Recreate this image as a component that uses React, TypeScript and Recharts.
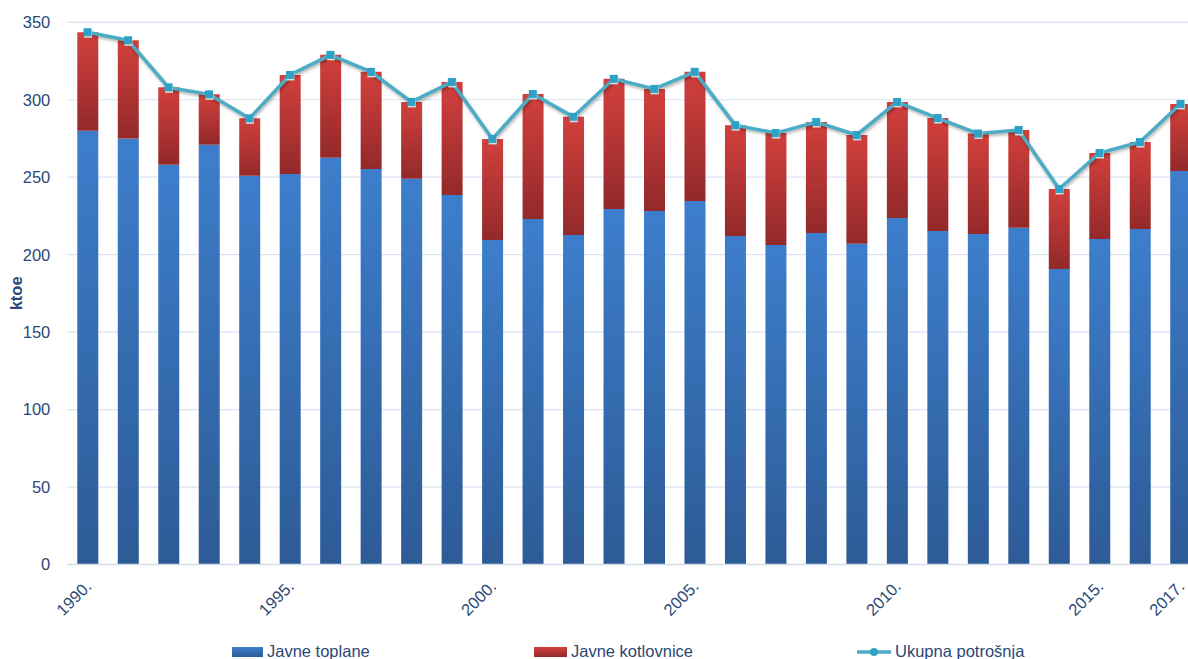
import React from 'react';
import { ComposedChart, Bar, Line, XAxis, YAxis, CartesianGrid, Legend, Label } from 'recharts';

const years = ['1990.', '1991.', '1992.', '1993.', '1994.', '1995.', '1996.', '1997.', '1998.', '1999.', '2000.', '2001.', '2002.', '2003.', '2004.', '2005.', '2006.', '2007.', '2008.', '2009.', '2010.', '2011.', '2012.', '2013.', '2014.', '2015.', '2016.', '2017.'];
const javneToplane = [280, 275, 258, 271, 251, 252, 262.6, 255.3, 249, 238.5, 209.5, 223, 212.7, 229.5, 228.2, 234.7, 212.1, 206.3, 214, 207, 223.7, 215.3, 213.4, 217.3, 190.8, 210.1, 216.6, 254];
const javneKotlovnice = [63.6, 63.4, 50, 32.5, 37, 64, 66.4, 62.7, 49.6, 73, 65.2, 80.7, 76.3, 84, 78.8, 83.3, 71.5, 72.2, 71.6, 70.3, 74.9, 72.9, 64.8, 63.2, 51.6, 55.5, 56.1, 43.3];
const ukupnaPotrosnja = [343.6, 338.4, 308, 303.5, 288, 316, 329, 318, 298.6, 311.5, 274.7, 303.7, 289, 313.5, 307, 318, 283.6, 278.5, 285.6, 277.3, 298.6, 288.2, 278.2, 280.5, 242.4, 265.6, 272.7, 297.3];
const xTickLabels = ['1990.', '1995.', '2000.', '2005.', '2010.', '2015.', '2017.'];
const yTicks = [0, 50, 100, 150, 200, 250, 300, 350];

const data = years.map((y, i) => ({
  year: y,
  toplane: javneToplane[i],
  kotlovnice: javneKotlovnice[i],
  ukupno: ukupnaPotrosnja[i],
}));

const W = 1210;
const H = 659;
const FONT = '"Liberation Sans", Arial, sans-serif';
const TEXT = '#2A4877';
const LINE = '#4BACC6';

const XTick = (props: any) => {
  const { x, y, payload } = props;
  if (!xTickLabels.includes(payload.value)) return null;
  const ax = x + 5;
  const ay = y + 23;
  return (
    <text x={ax} y={ay} textAnchor="end" fill={TEXT} fontSize={16.5} fontFamily={FONT}
      transform={`rotate(-45 ${ax} ${ay})`}>{payload.value}</text>
  );
};

const Dot = (props: any) => {
  const { cx, cy } = props;
  if (cx == null || cy == null) return null;
  return (
    <g>
      <rect x={cx - 3.5} y={cy - 2.5} width={8} height={8} fill="#dcdcd2" />
      <rect x={cx - 4} y={cy - 4} width={8} height={8} fill="#2EA2C6" />
    </g>
  );
};

const LegendContent = () => (
  <div style={{ position: 'relative', width: W, height: 20, fontFamily: FONT, fontSize: 16.5, color: TEXT }}>
    <div style={{ position: 'absolute', left: 232, top: 0, display: 'flex', alignItems: 'center' }}>
      <div style={{ width: 31, height: 10, background: 'linear-gradient(#3D7ECC, #2D5B96)', marginRight: 4 }} />
      <span>Javne toplane</span>
    </div>
    <div style={{ position: 'absolute', left: 534, top: 0, display: 'flex', alignItems: 'center' }}>
      <div style={{ width: 33, height: 10, background: 'linear-gradient(#D2403D, #93292A)', marginRight: 4 }} />
      <span>Javne kotlovnice</span>
    </div>
    <div style={{ position: 'absolute', left: 857, top: 0, display: 'flex', alignItems: 'center' }}>
      <svg width={34} height={12} style={{ marginRight: 4 }}>
        <line x1={0} y1={6} x2={34} y2={6} stroke={LINE} strokeWidth={3.5} />
        <circle cx={17} cy={6} r={4} fill="#2EA2C6" />
      </svg>
      <span>Ukupna potrošnja</span>
    </div>
  </div>
);

export default function App() {
  return (
    <div style={{ position: 'absolute', left: 0, top: 0, width: 1188, height: 659, overflow: 'hidden', background: '#fff' }}>
      <ComposedChart width={W} height={H} data={data}
        margin={{ top: 22.3, right: 9.3, left: 7.3, bottom: 34.5 }}>
        <defs>
          <linearGradient id="blueGrad" x1="0" y1="0" x2="0" y2="1">
            <stop offset="0%" stopColor="#3D7ECC" />
            <stop offset="100%" stopColor="#2D5B96" />
          </linearGradient>
          <linearGradient id="redGrad" x1="0" y1="0" x2="0" y2="1">
            <stop offset="0%" stopColor="#D2403D" />
            <stop offset="100%" stopColor="#93292A" />
          </linearGradient>
        </defs>
        <CartesianGrid vertical={false} stroke="#D9E3F3" strokeWidth={1.2} />
        <XAxis dataKey="year" interval={0} tick={<XTick />} tickLine={false} tickSize={0} tickMargin={0}
          axisLine={{ stroke: '#D3DDEB', strokeWidth: 1.5 }} height={60} />
        <YAxis domain={[0, 350]} ticks={yTicks} tickLine={false} axisLine={false} tickSize={0} tickMargin={17}
          width={60} tick={{ fill: TEXT, fontSize: 16.5, fontFamily: FONT }}>
          <Label value="ktoe" angle={-90} position="insideLeft" offset={9}
            style={{ fill: TEXT, fontSize: 16.5, fontWeight: 'bold', fontFamily: FONT, textAnchor: 'middle' }} />
        </YAxis>
        <Bar dataKey="toplane" name="Javne toplane" stackId="a" fill="url(#blueGrad)" barSize={21} isAnimationActive={false} />
        <Bar dataKey="kotlovnice" name="Javne kotlovnice" stackId="a" fill="url(#redGrad)" barSize={21} isAnimationActive={false} />
        <Line dataKey="ukupno" name="Ukupna potrošnja" type="linear" stroke={LINE} strokeWidth={3.5}
          dot={<Dot />} activeDot={false} isAnimationActive={false}
          style={{ filter: 'drop-shadow(1px 2px 1.5px rgba(0,0,0,0.3))' }} />
        <Legend content={<LegendContent />}
          wrapperStyle={{ position: 'absolute', left: 0, top: 642, width: W, height: 0, overflow: 'visible' }} />
      </ComposedChart>
    </div>
  );
}
